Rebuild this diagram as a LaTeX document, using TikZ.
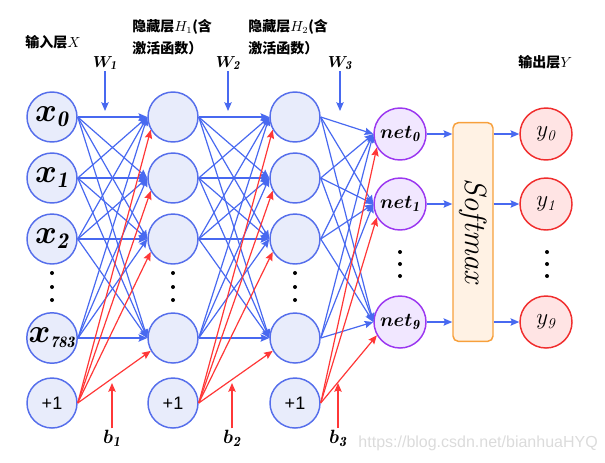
\documentclass[tikz,border=0pt]{standalone}
\usepackage{fontspec}
\usetikzlibrary{arrows.meta}
\newfontfamily\cjk{Noto Sans CJK SC}
\newfontfamily\arial{Liberation Sans}
\definecolor{nodeblue}{RGB}{85,110,235}
\definecolor{nodefill}{RGB}{232,236,251}
\definecolor{linkblue}{RGB}{72,105,240}
\definecolor{biasred}{RGB}{255,55,55}
\definecolor{netpurple}{RGB}{155,55,240}
\definecolor{netfill}{RGB}{241,231,255}
\definecolor{smorange}{RGB}{247,160,60}
\definecolor{smfill}{RGB}{255,242,228}
\definecolor{outred}{RGB}{240,45,45}
\definecolor{outfill}{RGB}{255,228,228}
\tikzset{
  neuron/.style={circle,draw=nodeblue,fill=nodefill,line width=1.1pt,minimum size=37.5pt,inner sep=0pt},
  netnode/.style={circle,draw=netpurple,fill=netfill,line width=1.1pt,minimum size=39pt,inner sep=0pt,font=\fontsize{15}{15}\selectfont\boldmath},
  outnode/.style={circle,draw=outred,fill=outfill,line width=1.1pt,minimum size=39pt,inner sep=0pt,font=\fontsize{16}{16}\selectfont},
  link/.style={draw=linkblue,line width=0.9pt,-{Stealth[length=6.5pt,width=5.5pt,inset=1pt]}},
  biaslink/.style={draw=biasred,line width=0.9pt,-{Stealth[length=6.5pt,width=5.5pt,inset=1pt]}},
  title/.style={font=\cjk\bfseries\fontsize{10.5}{13}\selectfont,anchor=west,inner sep=0pt},
  weight/.style={inner sep=1pt,font=\fontsize{13}{13}\selectfont\boldmath},
}
\begin{document}
\begin{tikzpicture}[x=0.75pt,y=-0.75pt]
\useasboundingbox (0,0) rectangle (605,462);
\foreach \i/\y/\t in {0/117/0,1/178/1,2/239/2} {
  \node[neuron,font=\fontsize{24}{24}\selectfont\boldmath] (X\i) at (52,\y) {$x_{\mathit{\t}}$};
}
\node[neuron,font=\fontsize{24}{24}\selectfont\boldmath] (X3) at (52,338) {$x_{\scriptscriptstyle\mathit{783}}$};
\foreach \i/\y in {0/117,1/178,2/239,3/338} {
  \node[neuron] (H\i) at (173,\y) {};
  \node[neuron] (G\i) at (295,\y) {};
}
\foreach \c/\x in {X/52,H/173,G/295} {
  \node[neuron,font=\arial\fontsize{13.5}{14}\selectfont] (\c4) at (\x,403) {+1};
  \foreach \y in {273,287,300} {
    \fill (\x,\y) circle (1.5pt);
  }
}
\foreach \i/\y/\t in {0/134/0,1/204/1,2/322/9} {
  \node[netnode] (N\i) at (400,\y) {$net_{\mathit{\t}}$};
  \node[outnode] (Y\i) at (546,\y) {$y_{\mathit{\t}}$};
}
\foreach \x in {400,547} {
  \foreach \y in {252,264,276} {
    \fill (\x,\y) circle (1.5pt);
  }
}
\node[draw=smorange,fill=smfill,line width=1.1pt,rounded corners=4pt,minimum width=30pt,minimum height=164pt] (S) at (473,232) {};
\node[rotate=-90,font=\fontsize{23}{23}\selectfont] (ST) at (S.center) {\textit{Softmax}};
\foreach \s in {0,...,3} {
  \foreach \t in {0,...,3} {
    \draw[link] (X\s.east) -- (H\t.west);
    \draw[link] (H\s.east) -- (G\t.west);
  }
  \foreach \t in {0,1,2} {
    \draw[link] (G\s.east) -- (N\t.west);
  }
}
\foreach \t in {0,...,3} {
  \draw[biaslink] (X4.east) -- (H\t.210);
  \draw[biaslink] (H4.east) -- (G\t.210);
}
\foreach \t in {0,1,2} {
  \draw[biaslink] (G4.east) -- (N\t.210);
  \draw[link] (N\t.east) -- (N\t.east -| S.west);
  \draw[link] (S.east |- Y\t) -- (Y\t.west);
}
\foreach \k/\x/\b in {1/105/112,2/228/232,3/340/338} {
  \node[weight] (W\k) at (\x,63) {$W_{\mathit{\k}}$};
  \coordinate (W\k e) at (\x,111);
  \draw[link] (W\k.south) -- (W\k e);
  \node[weight,font=\fontsize{15}{15}\selectfont\boldmath] (B\k) at (\b,438) {$b_{\mathit{\k}}$};
  \coordinate (B\k e) at (\b,383);
  \draw[biaslink] (B\k.north) -- (B\k e);
}
\node[title] (TX) at (25,42) {输入层$X$};
\node[title] (TH1) at (132,27) {隐藏层$H_1$(含};
\node[title] (TH1b) at (132,48) {激活函数）};
\node[title] (TH2) at (248,27) {隐藏层$H_2$(含};
\node[title] (TH2b) at (248,48) {激活函数）};
\node[title] (TY) at (518,62) {输出层$Y$};
\node[font=\arial\fontsize{12}{12}\selectfont,text=black!14,anchor=east,inner sep=0pt] (WM) at (598,443) {https://blog.csdn.net/bianhuaHYQ};
\end{tikzpicture}
\end{document}
